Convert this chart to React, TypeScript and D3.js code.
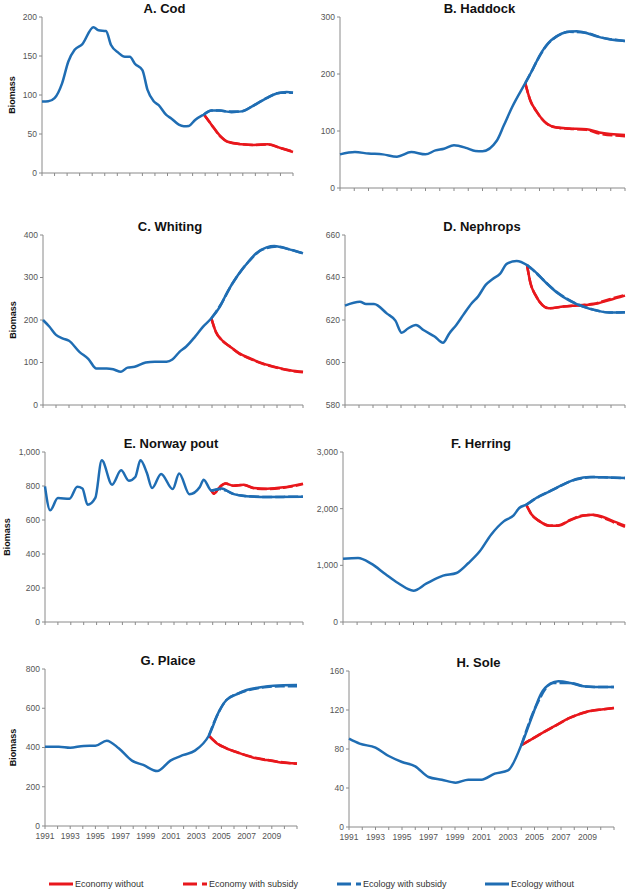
import * as d3 from "d3";

const FONT = "'Liberation Sans', Arial, Helvetica, sans-serif";
const BLUE = "#1f6db3";
const RED = "#e8171c";
const AXIS = "#8a8a8a";

// A. Cod
const codYears = [1991, 1991.5, 1992, 1992.6, 1993.1, 1993.6, 1994.2, 1995.1, 1995.5, 1996.1, 1996.5, 1997.1, 1997.6, 1998, 1998.4, 1999, 1999.4, 1999.9, 2000.3, 2000.9, 2001.3, 2001.9, 2002.3, 2002.7, 2003.2, 2003.9, 2004.5, 2005.1, 2006.1, 2006.9, 2007.7, 2008.9, 2009.7, 2010.5, 2011];
const codEcology = [91.7, 92, 96, 115, 143, 158, 165, 187, 183, 182, 164, 154, 149, 149, 140, 132, 107, 92, 87, 74.5, 70, 62, 60, 60.4, 68, 75, 80, 80, 78, 79, 85, 96, 102, 104, 103];
const codProjYears = [2003.9, 2004.5, 2005.2, 2005.8, 2006.9, 2007.9, 2009, 2010, 2011];
const codEconomy = [75, 62, 47.5, 40, 37, 36, 37, 32, 27];
const codEconomySub = [75, 62, 47, 40, 37, 36, 36.5, 32, 27.5];
const codEcologySub = [75, 80, 80, 79, 79, 87, 97, 103, 103];

// B. Haddock
const hadYears = [1991, 1992.05, 1993, 1994, 1995, 1996, 1997, 1997.7, 1998.3, 1999, 1999.9, 2000.5, 2001, 2002, 2002.5, 2003.1, 2004, 2004.5, 2005.05, 2005.6, 2006.2, 2006.9, 2007.6, 2008.3, 2009, 2009.9, 2011];
const hadEcology = [59, 63, 60.5, 59, 55, 63, 59, 66, 69, 75, 70, 65, 64.6, 83, 110, 143, 184, 207, 234, 254, 266, 273.5, 275, 272, 266, 261, 258];
const hadProjYears = [2004, 2004.35, 2004.8, 2005.5, 2006.2, 2007.1, 2008.3, 2009.2, 2011];
const hadEconomy = [184, 154, 134, 113, 106, 104.5, 103, 97.5, 93];
const hadEconomySub = [184, 154, 134, 113, 106, 104, 102, 95.5, 91];
const hadEcologySub = [184, 200, 222, 250, 266, 274, 272, 265, 258];

// C. Whiting
const whiYears = [1991, 1991.5, 1992, 1992.5, 1993, 1993.8, 1994.5, 1995.1, 1995.9, 1996.4, 1997, 1997.5, 1998.05, 1998.9, 1999.6, 2000.5, 2000.95, 2001.5, 2002, 2002.7, 2003.3, 2003.95, 2004.6, 2005.2, 2006, 2006.8, 2007.4, 2008.2, 2008.8, 2009.7, 2011];
const whiEcology = [200, 184, 165, 157, 151, 125, 108, 86, 86, 84, 78, 88, 90, 100, 102, 102, 107, 125, 137, 161, 184, 204, 231, 267, 306, 337, 357, 371, 374, 368, 357];
const whiProjYears = [2003.95, 2004.3, 2004.75, 2005.4, 2006.1, 2006.9, 2007.9, 2009, 2010, 2011];
const whiEconomy = [204, 172, 153, 137, 121.5, 110, 98, 88.6, 82, 78];
const whiEconomySub = [204, 172, 153, 137, 121, 109, 97, 87.5, 81, 77];
const whiEcologySub = [204, 219, 240, 277, 310, 340, 366, 373, 366, 357];

// D. Nephrops
const nepYears = [1991, 1992.07, 1992.5, 1993.07, 1994, 1994.6, 1995.05, 1995.5, 1996.07, 1996.6, 1997.4, 1998, 1998.45, 1998.95, 1999.45, 2000.05, 2000.5, 2001.05, 2001.55, 2002.07, 2002.55, 2003.26, 2004, 2004.7, 2005.4, 2006.2, 2007.07, 2008, 2009, 2009.9, 2011];
const nepEcology = [626.8, 628.6, 627.5, 627.5, 623, 619.7, 614, 616, 617.7, 615.3, 612.2, 609.3, 613.7, 617.7, 622.4, 627.9, 631, 636.5, 639.3, 641.7, 646.4, 647.8, 645.9, 642, 637.3, 632.6, 629, 626.3, 624.4, 623.5, 623.6];
const nepProjYears = [2004, 2004.25, 2004.6, 2005.1, 2005.55, 2006.6, 2007.55, 2008.75, 2009.9, 2011];
const nepEconomy = [645.9, 637.3, 631.8, 627, 625.5, 626.3, 626.8, 627.4, 629.4, 631.5];
const nepEconomySub = [645.9, 637.3, 631.8, 627, 625.5, 626.3, 626.9, 627.6, 629.8, 631.8];
const nepEcologySub = [645.9, 644.5, 642.5, 639.3, 636.4, 631, 627.6, 624.9, 623.5, 623.6];

// E. Norway pout
const norYears = [1991, 1991.4, 1992, 1992.9, 1993.5, 1993.9, 1994.3, 1994.9, 1995.4, 1996.2, 1996.9, 1997.5, 1998, 1998.4, 1998.9, 1999.3, 2000, 2000.9, 2001.4, 2002.2, 2003, 2003.3, 2003.9, 2004.7, 2005.5, 2006.6, 2008.2, 2011];
const norEcology = [798, 657, 729, 725, 795, 785, 690, 730, 951, 808, 892, 831, 853, 951, 876, 788, 871, 782, 873, 751, 794, 837, 773, 785, 755, 740, 735, 737];
const norProjYears = [2003.9, 2004.1, 2004.5, 2005, 2005.6, 2006.4, 2007.2, 2008.2, 2009.5, 2011];
const norEconomy = [773, 755, 790, 814, 802, 808, 788, 784, 792, 814];
const norEconomySub = [773, 755, 790, 814, 802, 806, 786, 782, 790, 811];
const norEcologySub = [773, 776, 782, 774, 754, 743, 738, 735, 736, 737];

// F. Herring
const herYears = [1991, 1992.07, 1993, 1994, 1994.9, 1996, 1996.9, 1998.1, 1999.05, 1999.9, 2000.7, 2001.5, 2002.4, 2003.1, 2003.5, 2004, 2004.7, 2005.65, 2006.6, 2007.55, 2008.5, 2009.45, 2011];
const herEcology = [1118, 1129, 1029, 847, 688, 553, 676, 818, 865, 1041, 1247, 1541, 1776, 1882, 2012, 2070, 2188, 2306, 2424, 2523, 2559, 2553, 2541];
const herProjYears = [2004, 2004.35, 2004.95, 2005.65, 2006.25, 2007.1, 2008, 2008.75, 2009.45, 2010.2, 2011];
const herEconomy = [2070, 1906, 1776, 1700, 1700, 1794, 1876, 1894, 1853, 1776, 1700];
const herEconomySub = [2070, 1906, 1776, 1700, 1705, 1800, 1880, 1890, 1840, 1760, 1680];
const herEcologySub = [2070, 2129, 2219, 2306, 2380, 2481, 2540, 2557, 2553, 2545, 2541];

// G. Plaice
const plaYears = [1991, 1992.1, 1993, 1994.07, 1995, 1995.9, 1996.85, 1997.9, 1998.8, 1999.9, 2000.95, 2002, 2002.9, 2004, 2004.8, 2005.4, 2006.2, 2007, 2008.1, 2009.15, 2011];
const plaEcology = [404, 404, 399, 408, 409, 435, 396, 333, 311, 280, 333, 362, 384, 460, 583, 642, 671, 693, 707, 715, 718];
const plaProjYears = [2004, 2004.65, 2005.4, 2006.5, 2007.55, 2008.6, 2009.7, 2011];
const plaEconomy = [460, 421, 396, 370, 348, 336, 324, 319];
const plaEconomySub = [460, 421, 396, 370, 350, 337, 326, 317];
const plaEcologySub = [460, 562, 642, 679, 698, 708, 712, 712];

// H. Sole
const solYears = [1991, 1991.8, 1993, 1994, 1995, 1996, 1997, 1998, 1999.05, 2000, 2001, 2002, 2003, 2004, 2004.8, 2005.5, 2006.2, 2006.8, 2007.7, 2008.7, 2009.45, 2011];
const solEcology = [90.6, 85.5, 81.4, 72.8, 66.7, 62.2, 51.3, 48.5, 45.5, 48.5, 48.5, 54.7, 58.1, 83.8, 112.8, 136.8, 147, 149.4, 147.7, 144.3, 143.6, 143.6];
const solProjYears = [2004, 2005.15, 2006.4, 2007.7, 2008.9, 2010.2, 2011];
const solEconomy = [83.8, 93, 102.6, 112.1, 118, 120.7, 122];
const solEconomySub = [83.8, 93, 102.6, 112.1, 118, 120.7, 122];
const solEcologySub = [83.8, 125, 147.8, 147.7, 144, 143.6, 143.6];

const axisYears = d3.range(1991, 2012);
const labelYears = [1991, 1993, 1995, 1997, 1999, 2001, 2003, 2005, 2007, 2009];

const legendItems = [
  { label: "Economy without", color: RED, dashed: false },
  { label: "Economy with subsidy", color: RED, dashed: true },
  { label: "Ecology with subsidy", color: BLUE, dashed: true },
  { label: "Ecology without", color: BLUE, dashed: false },
];

const panels = [
  { title: "A. Cod", years: codYears, ecology: codEcology, proj: codProjYears, economy: codEconomy, economySub: codEconomySub, ecologySub: codEcologySub, domain: [0, 200], ticks: [0, 50, 100, 150, 200], box: [42, 293, 17, 173], ylab: 12 },
  { title: "B. Haddock", years: hadYears, ecology: hadEcology, proj: hadProjYears, economy: hadEconomy, economySub: hadEconomySub, ecologySub: hadEcologySub, domain: [0, 300], ticks: [0, 100, 200, 300], box: [340, 625, 17, 188] },
  { title: "C. Whiting", years: whiYears, ecology: whiEcology, proj: whiProjYears, economy: whiEconomy, economySub: whiEconomySub, ecologySub: whiEcologySub, domain: [0, 400], ticks: [0, 100, 200, 300, 400], box: [43, 303, 235, 405], ylab: 13 },
  { title: "D. Nephrops", years: nepYears, ecology: nepEcology, proj: nepProjYears, economy: nepEconomy, economySub: nepEconomySub, ecologySub: nepEcologySub, domain: [580, 660], ticks: [580, 600, 620, 640, 660], box: [345, 625, 235, 405] },
  { title: "E. Norway pout", years: norYears, ecology: norEcology, proj: norProjYears, economy: norEconomy, economySub: norEconomySub, ecologySub: norEcologySub, domain: [0, 1000], ticks: [0, 200, 400, 600, 800, 1000], box: [45, 303, 452, 622], ylab: 7, comma: true },
  { title: "F. Herring", years: herYears, ecology: herEcology, proj: herProjYears, economy: herEconomy, economySub: herEconomySub, ecologySub: herEcologySub, domain: [0, 3000], ticks: [0, 1000, 2000, 3000], box: [343, 625, 452, 622], comma: true },
  { title: "G. Plaice", years: plaYears, ecology: plaEcology, proj: plaProjYears, economy: plaEconomy, economySub: plaEconomySub, ecologySub: plaEcologySub, domain: [0, 800], ticks: [0, 200, 400, 600, 800], box: [45, 297, 669, 826], ylab: 13, xlabels: true },
  { title: "H. Sole", years: solYears, ecology: solEcology, proj: solProjYears, economy: solEconomy, economySub: solEconomySub, ecologySub: solEcologySub, domain: [0, 160], ticks: [0, 40, 80, 120, 160], box: [349, 614, 671, 827], xlabels: true },
];

function Panel({ p }: any) {
  const [l, r, t, b] = p.box;
  const x = d3.scaleLinear().domain([1991, 2011]).range([l, r]);
  const y = d3.scaleLinear().domain(p.domain).range([b, t]);
  const line = d3.line<number>().curve(d3.curveMonotoneX);
  const path = (xs: number[], vs: number[]) =>
    line.x((_, i) => x(xs[i])).y((v) => y(v))(vs) as string;
  const fmt = p.comma ? d3.format(",") : d3.format("d");

  return (
    <g>
      <text x={(l + r) / 2 - 3} y={t - 4} textAnchor="middle" fontSize={13} fontWeight="bold" fill="#111">
        {p.title}
      </text>
      {p.ylab !== undefined && (
        <text transform={`translate(${p.ylab},${(t + b) / 2}) rotate(-90)`} textAnchor="middle" dy="0.35em" fontSize={9} fontWeight="bold" fill="#111">
          Biomass
        </text>
      )}
      <line x1={l} x2={l} y1={t} y2={b} stroke={AXIS} />
      <line x1={l} x2={r} y1={b} y2={b} stroke={AXIS} />
      {p.ticks.map((v: number) => (
        <g key={v}>
          <line x1={l - 3} x2={l} y1={y(v)} y2={y(v)} stroke={AXIS} />
          <text x={l - 5} y={y(v)} dy="0.35em" textAnchor="end" fontSize={8.5} fill="#555">
            {fmt(v)}
          </text>
        </g>
      ))}
      {axisYears.map((yr) => (
        <line key={yr} x1={x(yr)} x2={x(yr)} y1={b} y2={b + 3} stroke={AXIS} />
      ))}
      {p.xlabels &&
        labelYears.map((yr) => (
          <text key={yr} x={x(yr)} y={b + 13} textAnchor="middle" fontSize={8.5} fill="#555">
            {yr}
          </text>
        ))}
      <path d={path(p.proj, p.economySub)} fill="none" stroke={RED} strokeWidth={2.5} strokeDasharray="10,3" />
      <path d={path(p.proj, p.economy)} fill="none" stroke={RED} strokeWidth={2.5} />
      <path d={path(p.proj, p.ecologySub)} fill="none" stroke={BLUE} strokeWidth={2.5} strokeDasharray="10,3" />
      <path d={path(p.years, p.ecology)} fill="none" stroke={BLUE} strokeWidth={2.5} />
    </g>
  );
}

const legendX = [49, 183, 337, 485];

export default function App() {
  return (
    <svg width={630} height={892} style={{ position: "absolute", left: 0, top: 0, background: "#fff" }} fontFamily={FONT}>
      {panels.map((p) => (
        <Panel key={p.title} p={p} />
      ))}
      {legendItems.map((it, i) => (
        <g key={it.label} transform={`translate(${legendX[i]},884)`}>
          <line x1={0} x2={24} y1={0} y2={0} stroke={it.color} strokeWidth={3} strokeDasharray={it.dashed ? "14,5,5" : undefined} />
          <text x={26} y={0} dy="0.35em" fontSize={9} fill="#333">
            {it.label}
          </text>
        </g>
      ))}
    </svg>
  );
}
